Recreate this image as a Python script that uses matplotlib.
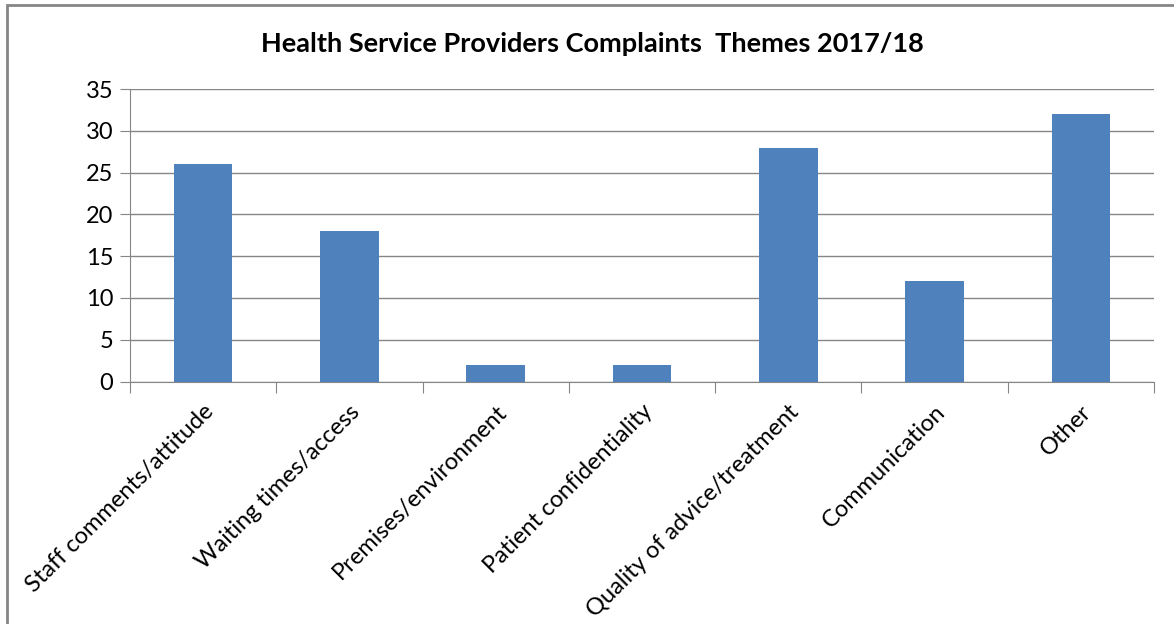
import matplotlib.pyplot as plt
from matplotlib.patches import Rectangle

categories = ["Staff comments/attitude", "Waiting times/access", "Premises/environment",
              "Patient confidentiality", "Quality of advice/treatment", "Communication", "Other"]
counts = [26, 18, 2, 2, 28, 12, 32]
yticks = [0, 5, 10, 15, 20, 25, 30, 35]

plt.rcParams['font.family'] = ['Lato', 'DejaVu Sans']

W, H = 1174, 624
fig = plt.figure(figsize=(W / 100, H / 100), dpi=100)
fig.patches.append(Rectangle((7 / W, -0.1), 1.2, 1 - 5 / H + 0.1, transform=fig.transFigure,
                             fill=False, edgecolor="#868686", lw=2))

ax = fig.add_axes([130 / W, 1 - 381.5 / H, (1154 - 130) / W, (381.5 - 89) / H])
x = range(len(categories))
ax.bar(x, counts, width=0.4, color="#4F81BD", zorder=3)

ax.set_xlim(-0.5, len(categories) - 0.5)
ax.set_ylim(0, 35)
ax.set_yticks(yticks)
ax.yaxis.grid(True, color="#868686", lw=1)
ax.set_axisbelow(True)

for s in ["top", "right"]:
    ax.spines[s].set_visible(False)
for s in ["left", "bottom"]:
    ax.spines[s].set_color("#868686")

ax.set_xticks([i - 0.5 for i in range(len(categories) + 1)], minor=False)
ax.set_xticklabels([])
ax.tick_params(axis="x", length=8, color="#868686", direction="out")
ax.set_xticks(list(x), minor=True)
ax.set_xticklabels(categories, minor=True, rotation=45, ha="right", va="top",
                   rotation_mode="anchor", fontsize=17)
ax.tick_params(axis="x", which="minor", length=0, pad=14)
ax.tick_params(axis="y", length=7, color="#868686", labelsize=17, pad=5)

fig.text(592 / W, 1 - 44 / H, "Health Service Providers Complaints  Themes 2017/18",
         ha="center", va="center", fontsize=19.5, fontweight="bold")

fig.savefig("out.png", dpi=100)
